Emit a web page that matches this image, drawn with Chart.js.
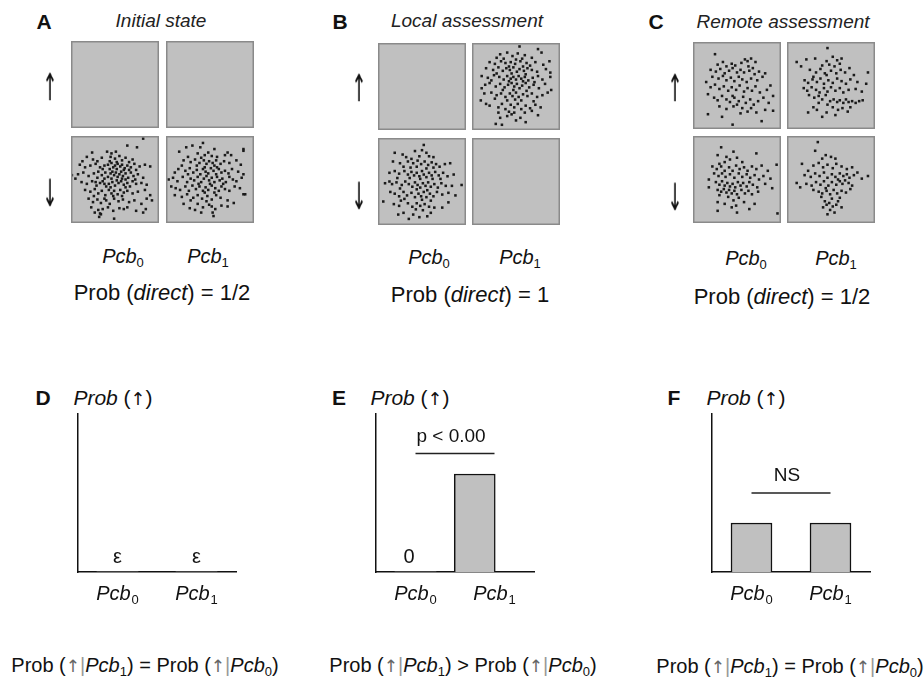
<!DOCTYPE html>
<html>
<head>
<meta charset="utf-8">
<script src="https://cdn.jsdelivr.net/npm/chart.js@4.4.1/dist/chart.umd.min.js"></script>
<style>
  body { margin: 0; background: #fff; }
  #fig { position: relative; width: 924px; height: 677px; overflow: hidden;
         font-family: "Liberation Sans", Arial, sans-serif; color: #111; }
  .t { position: absolute; transform: translate(-50%, -50%); white-space: nowrap; line-height: 1; }
  .lbl { font-weight: bold; font-size: 21px; }
  .ttl { font-style: italic; font-size: 19px; color: #222; }
  .arr { font-size: 26px; font-family: "DejaVu Sans", sans-serif; transform: translate(-50%, -50%) scale(0.7, 1.45);
         will-change: transform; -webkit-font-smoothing: antialiased; }
  .ar { font-family: "DejaVu Sans", sans-serif; font-size: 0.85em; }
  .pcb { font-size: 20px; }
  .prob { font-size: 22px; }
  .f { font-size: 20px; }
  .yl { font-size: 21px; }
  sub { font-size: 13px; vertical-align: -4px; line-height: 0; font-style: normal; }
  .soft { color: #666; }
  .bar { color: #999; }
  canvas { position: absolute; }
</style>
</head>
<body>
<div id="fig"></div>
<script>
// ---- categories / labels ----
const pcbSubs = ["0", "1"];
const spinRows = ["↑", "↓"];
const panelLetters = ["A", "B", "C"];
const panelTitles = ["Initial state", "Local assessment", "Remote assessment"];
const directProb = ["1/2", "1", "1/2"];

// ---- scatter clouds, box units 0-100 (x from left, y from top) ----
const cloudA_down0 = [
  [82,3],[64,11],[75,13],[41,18],[51,18],[24,19],[46,20],
  [18,24],[25,27],[35,25],[45,24],[50,26],[55,23],[58,28],[62,25],[70,27],[30,29],[44,29],[52,30],[66,30],[13,29],
  [10,33],[16,36],[22,34],[28,32],[33,36],[38,34],[42,33],[46,31],[48,36],[50,34],[53,32],[56,35],[58,33],[61,37],[64,34],[68,36],[72,32],[78,35],[84,33],[90,35],[36,38],[44,38],[52,38],[60,39],[66,39],[74,39],
  [1,45],[8,44],[14,42],[20,46],[26,43],[31,41],[35,45],[39,42],[42,47],[45,43],[47,41],[49,45],[51,42],[53,47],[55,44],[57,41],[59,46],[62,43],[65,48],[68,42],[71,46],[76,44],[82,48],[5,49],[30,48],[38,49],[46,49],[58,49],[62,50],[73,50],
  [12,53],[18,55],[24,52],[29,57],[33,54],[36,52],[40,58],[43,55],[47,53],[50,57],[54,54],[57,52],[60,56],[64,54],[67,58],[70,52],[74,55],[80,54],[86,56],[38,55],[45,59],[52,51],[62,59],[28,53],
  [16,62],[22,64],[27,61],[31,66],[35,63],[39,68],[43,62],[46,66],[49,63],[53,67],[56,62],[60,65],[64,63],[70,66],[76,64],[84,62],[90,68],[26,69],[48,69],[58,69],
  [20,72],[25,76],[30,73],[34,77],[40,74],[44,78],[49,72],[54,75],[59,73],[66,76],[72,74],[80,78],[86,72],[92,74],[38,72],
  [23,82],[31,85],[33,89],[36,84],[42,82],[48,86],[55,83],[60,84],[64,82],[74,86],[85,84],[27,88],[34,90],
  [32,93],[49,95],[82,88]
];
const cloudA_down1 = [
  [42,8],[23,13],[39,13],[55,15],[88,15],[88,17],[30,11],
  [15,18],[70,19],[67,22],[36,20],[44,22],[48,19],[58,24],[25,24],[40,25],[52,23],[74,22],
  [20,28],[28,30],[33,27],[38,31],[43,28],[46,32],[49,29],[53,31],[57,28],[62,32],[66,29],[72,31],[80,28],[18,34],[35,34],[55,34],[85,33],
  [10,42],[14,38],[22,40],[27,37],[31,42],[35,39],[39,44],[42,38],[45,41],[48,43],[51,37],[54,40],[57,44],[60,38],[63,42],[67,40],[71,43],[75,38],[82,41],[88,44],[25,44],[44,36],[58,36],
  [3,50],[8,48],[13,52],[19,47],[24,53],[28,49],[32,51],[36,47],[40,53],[43,49],[46,46],[49,51],[52,48],[55,53],[58,47],[61,51],[64,49],[68,53],[72,47],[76,50],[80,52],[86,48],[37,55],[50,55],[65,55],
  [6,58],[11,60],[16,62],[22,58],[26,63],[30,57],[34,61],[38,58],[42,63],[45,59],[48,62],[52,57],[56,60],[60,63],[63,58],[67,61],[72,63],[78,58],[84,60],[44,65],[55,65],
  [10,68],[18,70],[24,67],[31,71],[36,68],[41,72],[47,69],[52,73],[57,68],[62,71],[70,74],[88,67],[90,67],[28,74],[46,75],
  [20,78],[27,83],[36,78],[42,82],[49,79],[56,84],[63,80],[70,81],[77,77],[33,85],[52,81],
  [53,88],[54,92],[40,88]
];
const cloudB_up1 = [
  [54,4],[75,7],[79,11],[32,13],[40,11],[52,12],[46,15],[60,14],[28,17],[36,18],[57,18],[68,17],[50,19],
  [20,22],[26,24],[33,21],[38,23],[44,22],[49,24],[55,21],[62,23],[66,26],[72,22],[81,25],[88,21],[42,27],[58,27],
  [16,29],[24,31],[30,28],[35,32],[39,29],[43,31],[47,28],[51,33],[54,30],[59,32],[63,29],[68,31],[74,33],[84,30],[89,34],[28,35],[45,35],[61,36],
  [11,38],[18,40],[25,37],[31,39],[36,42],[40,38],[44,41],[47,39],[50,42],[53,38],[56,41],[60,39],[64,43],[69,40],[75,38],[80,42],[89,39],[22,43],[42,44],[58,44],[71,45],
  [11,52],[15,48],[20,46],[27,50],[32,47],[37,51],[41,48],[45,46],[48,50],[51,47],[54,52],[57,49],[61,46],[65,51],[70,48],[76,52],[83,47],[90,54],[35,54],[47,54],[62,55],
  [10,66],[16,70],[14,58],[22,57],[28,60],[33,58],[38,62],[43,58],[46,61],[50,57],[53,62],[58,59],[63,61],[68,58],[74,62],[80,60],[86,57],[26,64],[40,66],[49,65],[56,66],[70,67],
  [20,72],[30,74],[34,70],[38,76],[44,71],[48,74],[52,70],[56,76],[61,72],[66,75],[72,71],[78,74],[42,79],[45,82],[48,80],[60,80],[68,78],
  [27,93],[34,94],[61,91],[50,89],[75,83],[32,86],[40,84],[55,86],[30,80]
];
const cloudB_down0 = [
  [52,8],[19,17],[32,22],[47,21],[58,21],[63,22],[42,15],[50,14],[55,17],[28,19],[38,24],
  [17,27],[25,29],[34,27],[40,29],[45,26],[49,30],[53,27],[57,31],[61,28],[66,30],[76,30],[82,29],[70,33],[29,33],[37,34],[44,33],[55,35],[63,34],
  [13,40],[19,38],[24,41],[30,38],[34,42],[38,39],[41,43],[44,40],[47,44],[50,38],[52,42],[55,45],[58,40],[61,43],[65,39],[69,43],[74,40],[79,44],[86,42],[22,46],[36,46],[48,47],[62,47],[71,47],
  [13,50],[8,52],[16,53],[21,51],[27,54],[31,50],[35,53],[39,56],[42,51],[45,54],[48,57],[51,52],[54,55],[57,51],[60,56],[64,53],[68,57],[72,52],[77,55],[84,55],[95,54],[25,58],[44,59],[56,60],
  [6,73],[14,62],[19,64],[24,67],[29,62],[33,66],[38,63],[42,68],[46,64],[49,67],[52,62],[55,68],[59,64],[63,67],[67,62],[73,65],[80,63],[88,66],[30,70],[50,71],[60,72],
  [18,76],[24,78],[34,75],[39,79],[44,75],[48,78],[53,76],[58,79],[64,80],[73,80],[80,74],[26,72],[43,82],[51,83],
  [35,93],[56,90],[29,86],[40,88],[47,91],[23,88],[60,86]
];
const cloudC_up0 = [
  [25,14],[59,20],[62,22],[66,19],[71,23],[55,24],[28,26],[34,23],[38,28],[44,25],[48,27],[63,28],[68,30],
  [20,32],[26,34],[31,31],[36,36],[41,33],[45,30],[50,35],[54,32],[58,35],[64,33],[70,37],[75,34],[82,36],
  [15,46],[22,40],[29,42],[34,39],[38,44],[43,41],[47,45],[52,40],[56,43],[61,46],[66,42],[73,44],[79,40],[88,50],
  [17,60],[20,52],[25,49],[30,54],[35,51],[40,56],[44,52],[49,55],[53,50],[58,57],[62,53],[67,56],[71,51],[76,58],[84,55],[91,62],[45,62],
  [24,64],[28,67],[33,62],[38,66],[42,69],[47,64],[52,68],[57,63],[60,70],[65,66],[69,72],[74,68],[80,64],[86,70],[50,72],
  [17,83],[33,86],[45,95],[78,91],[91,79],[30,74],[38,77],[46,74],[56,76],[62,80],[66,76],[72,81],[82,78],[54,82]
];
const cloudC_up1 = [
  [46,7],[11,23],[16,28],[22,20],[32,19],[52,17],[57,21],[62,19],[45,22],[48,26],[54,28],[60,25],[40,27],
  [26,32],[33,35],[38,31],[43,36],[50,33],[56,36],[61,32],[66,35],[71,30],[76,38],[92,35],[30,40],
  [20,44],[24,47],[29,43],[34,46],[38,42],[42,48],[47,44],[52,47],[57,42],[62,45],[67,48],[72,43],[80,46],[90,48],[45,38],
  [19,53],[23,56],[28,52],[33,55],[37,58],[42,53],[46,57],[50,52],[55,56],[60,53],[64,58],[70,55],[78,54],[85,57],
  [25,61],[31,64],[36,62],[40,66],[44,61],[49,68],[53,66],[57,69],[60,67],[64,70],[67,66],[70,69],[74,68],[78,70],[82,68],[86,67],[46,72],[36,70],
  [24,81],[45,81],[69,80],[30,75],[34,78],[52,75],[58,78],[63,76],[72,75],[40,86],[55,84]
];
const cloudC_down0 = [
  [32,13],[28,22],[46,18],[72,20],[95,33],[38,24],[42,27],[50,25],[56,30],[36,30],[30,32],
  [22,35],[27,38],[32,35],[36,40],[41,36],[45,40],[49,34],[53,38],[58,36],[62,40],[67,35],[72,38],[78,34],[85,40],
  [18,50],[24,43],[29,46],[33,43],[37,47],[42,44],[47,48],[52,43],[56,47],[61,44],[65,48],[70,45],[75,50],[80,46],[88,49],
  [18,59],[26,53],[30,56],[33,52],[36,57],[39,54],[42,58],[45,55],[48,59],[51,53],[54,57],[57,54],[61,58],[64,53],[68,56],[73,59],[82,55],[90,60],
  [28,62],[32,64],[35,61],[38,65],[41,62],[44,66],[47,63],[50,67],[55,62],[59,66],[63,63],[67,67],[74,64],[30,68],[40,70],[52,71],
  [28,76],[36,78],[46,74],[49,80],[58,76],[64,84],[70,78],[28,86],[50,88],[96,89],[44,82]
];
const cloudC_down1 = [
  [35,7],[32,17],[17,32],[11,54],[15,59],[92,46],[85,49],[44,22],[50,24],[55,26],[40,26],
  [30,34],[36,31],[41,36],[46,33],[52,37],[56,32],[62,35],[68,38],[74,36],[24,40],
  [20,45],[27,47],[32,43],[37,46],[42,42],[46,48],[51,44],[55,47],[60,43],[64,46],[68,44],[71,48],[76,45],[80,42],[58,50],
  [22,55],[28,57],[33,53],[38,56],[42,52],[47,57],[51,53],[56,56],[60,52],[63,55],[66,51],[70,54],[74,57],[44,60],
  [30,62],[36,64],[40,66],[45,63],[49,67],[53,62],[57,66],[62,63],[67,65],[72,61],[39,70],[51,72],[60,71],
  [45,79],[56,79],[49,85],[43,75],[48,77],[52,81],[58,75],[41,82],[62,82],[46,90],[54,88]
];
// order per panel: up/Pcb0, up/Pcb1, down/Pcb0, down/Pcb1
const panelClouds = [
  [[], [], cloudA_down0, cloudA_down1],
  [[], cloudB_up1, cloudB_down0, []],
  [cloudC_up0, cloudC_up1, cloudC_down0, cloudC_down1]
];

// ---- bar panels D-F: Prob(up) per Pcb ----
const barLetters = ["D", "E", "F"];
const probUpD = [0, 0];
const probUpE = [0, 0.62];
const probUpF = [0.31, 0.31];
const valueTextD = ["ε", "ε"];
const valueTextE = ["0", ""];
const valueTextF = ["", ""];
const sigText = ["", "p < 0.00", "NS"];
const sigLevel = [null, 0.75, 0.5];
const relations = ["=", ">", "="];

// ---- layout (pixels) ----
const FONT = "'Liberation Sans', Arial, sans-serif";
const topLayout = [
  { letter: [44, 21], title: [161, 20], arrowX: 50, arrowY: [87, 193], lefts: [71, 166], tops: [41, 136], pcbX: [123, 208], pcbY: 256, prob: [162, 293] },
  { letter: [340, 21], title: [467, 20], arrowX: 359, arrowY: [88, 196], lefts: [378, 472], tops: [43, 138], pcbX: [429, 520], pcbY: 257, prob: [470, 295] },
  { letter: [656, 21], title: [783, 21], arrowX: 675, arrowY: [88, 197], lefts: [693, 787], tops: [42, 136], pcbX: [746, 836], pcbY: 258, prob: [782, 297] }
];
const BOX = 88;
const barLayout = [
  { letter: [43, 397], ylab: [113, 397], areaLeft: 78, formula: [145, 665], shift: [0, 0] },
  { letter: [339, 397], ylab: [410, 397], areaLeft: 376, formula: [463, 665], shift: [0, -0.25] },
  { letter: [674, 397], ylab: [746, 397], areaLeft: 712, formula: [790, 666], shift: [0, 0] }
];
const AREA_W = 158, AREA_TOP = 414, AREA_BOTTOM = 572;

const fig = document.getElementById("fig");
function addText(cls, html, pos) {
  const d = document.createElement("div");
  d.className = "t " + cls;
  d.innerHTML = html;
  d.style.left = pos[0] + "px";
  d.style.top = pos[1] + "px";
  fig.appendChild(d);
}
function addCanvas(left, top, w, h) {
  const c = document.createElement("canvas");
  c.width = w; c.height = h;
  c.style.left = left + "px"; c.style.top = top + "px";
  c.style.width = w + "px"; c.style.height = h + "px";
  fig.appendChild(c);
  return c;
}
const pcbHtml = (s) => "<i>Pcb</i><sub>" + s + "</sub>";
const arrowHtml = "<span class='ar'>↑</span>";

// grey box behind each scatter cell
const boxPlugin = {
  id: "box",
  beforeDatasetsDraw(chart) {
    const { ctx, chartArea: a } = chart;
    ctx.save();
    ctx.fillStyle = "#c0c0c0";
    ctx.fillRect(a.left, a.top, a.width, a.height);
    ctx.restore();
  },
  afterDraw(chart) {
    const { ctx, chartArea: a } = chart;
    ctx.save();
    ctx.strokeStyle = "#8a8a8a";
    ctx.lineWidth = 1.5;
    ctx.strokeRect(a.left + 0.75, a.top + 0.75, a.width - 1.5, a.height - 1.5);
    ctx.restore();
  }
};

function makeCloud(canvas, pts) {
  return new Chart(canvas, {
    type: "scatter",
    data: { datasets: [{ data: pts, pointStyle: "rect", pointRadius: 1.8, backgroundColor: "#1a1a1a", borderWidth: 0 }] },
    options: {
      responsive: false, animation: false, events: [],
      layout: { padding: 0, autoPadding: false },
      scales: {
        x: { display: false, min: 0, max: 100 },
        y: { display: false, min: 0, max: 100, reverse: true }
      },
      plugins: { legend: { display: false }, tooltip: { enabled: false } }
    },
    plugins: [boxPlugin]
  });
}

// top panels A-C
topLayout.forEach((L, p) => {
  addText("lbl", panelLetters[p], L.letter);
  addText("ttl", panelTitles[p], L.title);
  spinRows.forEach((s, r) => addText("arr", s, [L.arrowX, L.arrowY[r]]));
  pcbSubs.forEach((s, i) => addText("pcb", pcbHtml(s), [L.pcbX[i], L.pcbY]));
  addText("prob", "Prob (<i>direct</i>) = " + directProb[p], L.prob);
  for (let r = 0; r < 2; r++) {
    for (let i = 0; i < 2; i++) {
      const c = addCanvas(L.lefts[i], L.tops[r], BOX, BOX - 1);
      makeCloud(c, panelClouds[p][r * 2 + i]);
    }
  }
});

// labels under / inside the bar panels
const barTextPlugin = {
  id: "barText",
  afterDraw(chart, args, opts) {
    const { ctx, chartArea: a, scales: { x, y } } = chart;
    ctx.save();
    ctx.fillStyle = "#111";
    ctx.textBaseline = "alphabetic";
    // category labels Pcb0 / Pcb1
    pcbSubs.forEach((s, i) => {
      const cx = x.getPixelForValue(i + 0.5);
      const base = a.bottom + 28;
      ctx.font = "italic 20px " + FONT;
      const w1 = ctx.measureText("Pcb").width;
      ctx.font = "13px " + FONT;
      const w2 = ctx.measureText(s).width;
      const x0 = cx - (w1 + w2 + 1) / 2;
      ctx.textAlign = "left";
      ctx.font = "italic 20px " + FONT;
      ctx.fillText("Pcb", x0, base);
      ctx.font = "13px " + FONT;
      ctx.fillText(s, x0 + w1 + 1, base + 4);
    });
    // value labels (epsilon / 0)
    ctx.textAlign = "center";
    ctx.font = "20px " + FONT;
    opts.valueText.forEach((t, i) => {
      if (!t) return;
      ctx.fillText(t, x.getPixelForValue(i + 0.5 + opts.shift[i] - (i === 0 && opts.nudge ? 0.08 : 0)), a.bottom - 9);
    });
    // significance text
    if (opts.sig) {
      ctx.font = "19px " + FONT;
      ctx.fillText(opts.sig, x.getPixelForValue(0.95), y.getPixelForValue(opts.level) - 12);
    }
    ctx.restore();
  }
};

function makeBars(canvas, values, k) {
  const L = barLayout[k];
  const datasets = [{
    type: "bar",
    data: values.map((v, i) => ({ x: i + 0.5 + L.shift[i], y: v })),
    backgroundColor: "#c0c0c0",
    borderColor: "#111",
    borderWidth: (c) => (c.raw && c.raw.y > 0 ? 1.5 : 0),
    barThickness: 41
  }];
  if (sigLevel[k] !== null) {
    datasets.push({
      type: "line",
      data: [{ x: 0.5, y: sigLevel[k] }, { x: 1.5, y: sigLevel[k] }],
      borderColor: "#222", borderWidth: 1.5, pointRadius: 0
    });
  }
  return new Chart(canvas, {
    type: "bar",
    data: { datasets },
    options: {
      responsive: false, animation: false, events: [],
      layout: { padding: { left: 30, right: 30, top: AREA_TOP - 395, bottom: 620 - AREA_BOTTOM }, autoPadding: false },
      scales: {
        x: {
          type: "linear", min: 0, max: 2, offset: false,
          ticks: { display: false }, grid: { display: false },
          border: { display: true, color: "#111", width: 1.5 },
          afterFit: (s) => { s.height = 0; }
        },
        y: {
          min: 0, max: 1,
          ticks: { display: false }, grid: { display: false },
          border: { display: true, color: "#111", width: 1.5 },
          afterFit: (s) => { s.width = 0; }
        }
      },
      plugins: {
        legend: { display: false }, tooltip: { enabled: false },
        barText: {
          valueText: [valueTextD, valueTextE, valueTextF][k],
          shift: L.shift, nudge: k === 1,
          sig: sigText[k], level: sigLevel[k]
        }
      }
    },
    plugins: [barTextPlugin]
  });
}

[probUpD, probUpE, probUpF].forEach((vals, k) => {
  const L = barLayout[k];
  addText("lbl", barLetters[k], L.letter);
  addText("yl", "<i>Prob</i> (" + arrowHtml + ")", L.ylab);
  const c = addCanvas(L.areaLeft - 30, 395, AREA_W + 60, 225);
  makeBars(c, vals, k);
  addText("f", "Prob (<span class='soft'>" + arrowHtml + "</span><span class='bar'>|</span>" + pcbHtml("1") + ") " + relations[k] +
    " Prob (<span class='soft'>" + arrowHtml + "</span><span class='bar'>|</span>" + pcbHtml("0") + ")", L.formula);
});
</script>
</body>
</html>
